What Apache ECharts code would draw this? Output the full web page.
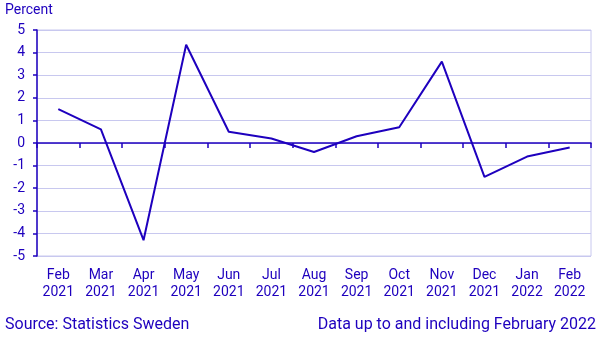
<!DOCTYPE html>
<html>
<head>
<meta charset="utf-8">
<script src="https://cdn.jsdelivr.net/npm/echarts@6/dist/echarts.min.js"></script>
<style>
  html, body { margin: 0; padding: 0; background: #fff; }
  #chart { width: 606px; height: 341px; }
</style>
</head>
<body>
<div id="chart"></div>
<script>
// Monthly change, percent
const months = ['Feb\n2021', 'Mar\n2021', 'Apr\n2021', 'May\n2021', 'Jun\n2021', 'Jul\n2021',
  'Aug\n2021', 'Sep\n2021', 'Oct\n2021', 'Nov\n2021', 'Dec\n2021', 'Jan\n2022', 'Feb\n2022'];
const change = [1.5, 0.6, -4.3, 4.35, 0.5, 0.2, -0.4, 0.3, 0.7, 3.6, -1.5, -0.6, -0.2];

const ink = '#1e00be';
const grid = '#c8c8ef';
const font = 'Roboto, sans-serif';

const chart = echarts.init(document.getElementById('chart'), null, { renderer: 'canvas' });
chart.setOption({
  animation: false,
  backgroundColor: '#ffffff',
  textStyle: { fontFamily: font, color: ink },
  grid: {
    left: 37, right: 15, top: 30, bottom: 85,
    show: true, borderColor: grid, borderWidth: 1
  },
  graphic: [
    { type: 'text', left: 5, top: 3, style: { text: 'Percent', fill: ink, font: '14px ' + font } },
    { type: 'text', left: 5, top: 317, style: { text: 'Source: Statistics Sweden', fill: ink, font: '16px ' + font } },
    { type: 'text', right: 10, top: 317, style: { text: 'Data up to and including February 2022', fill: ink, font: '16px ' + font } }
  ],
  xAxis: [
    {
      type: 'category', data: months, position: 'bottom',
      axisLine: { show: false, onZero: false },
      axisTick: { show: false },
      axisLabel: { color: ink, fontSize: 14, fontFamily: font, margin: 11, lineHeight: 17, interval: 0 },
      splitLine: { show: false }
    },
    {
      // zero line with month boundary ticks
      type: 'category', data: months, position: 'top',
      axisLine: { show: true, onZero: true, onZeroAxisIndex: 0, lineStyle: { color: ink, width: 1.5 } },
      axisTick: { show: true, inside: true, length: 5, lineStyle: { color: ink, width: 1.5 } },
      axisLabel: { show: false },
      splitLine: { show: false }
    }
  ],
  yAxis: {
    type: 'value', min: -5, max: 5, interval: 1,
    axisLine: { show: true, lineStyle: { color: ink, width: 1.5 } },
    axisTick: { show: true, length: 4, lineStyle: { color: ink, width: 1.5 } },
    axisLabel: { color: ink, fontSize: 14, fontFamily: font, margin: 12 },
    splitLine: { show: true, lineStyle: { color: grid, width: 1 } }
  },
  series: [{
    type: 'line', data: change, xAxisIndex: 0,
    symbol: 'none',
    lineStyle: { color: ink, width: 2 }
  }]
});
</script>
</body>
</html>
